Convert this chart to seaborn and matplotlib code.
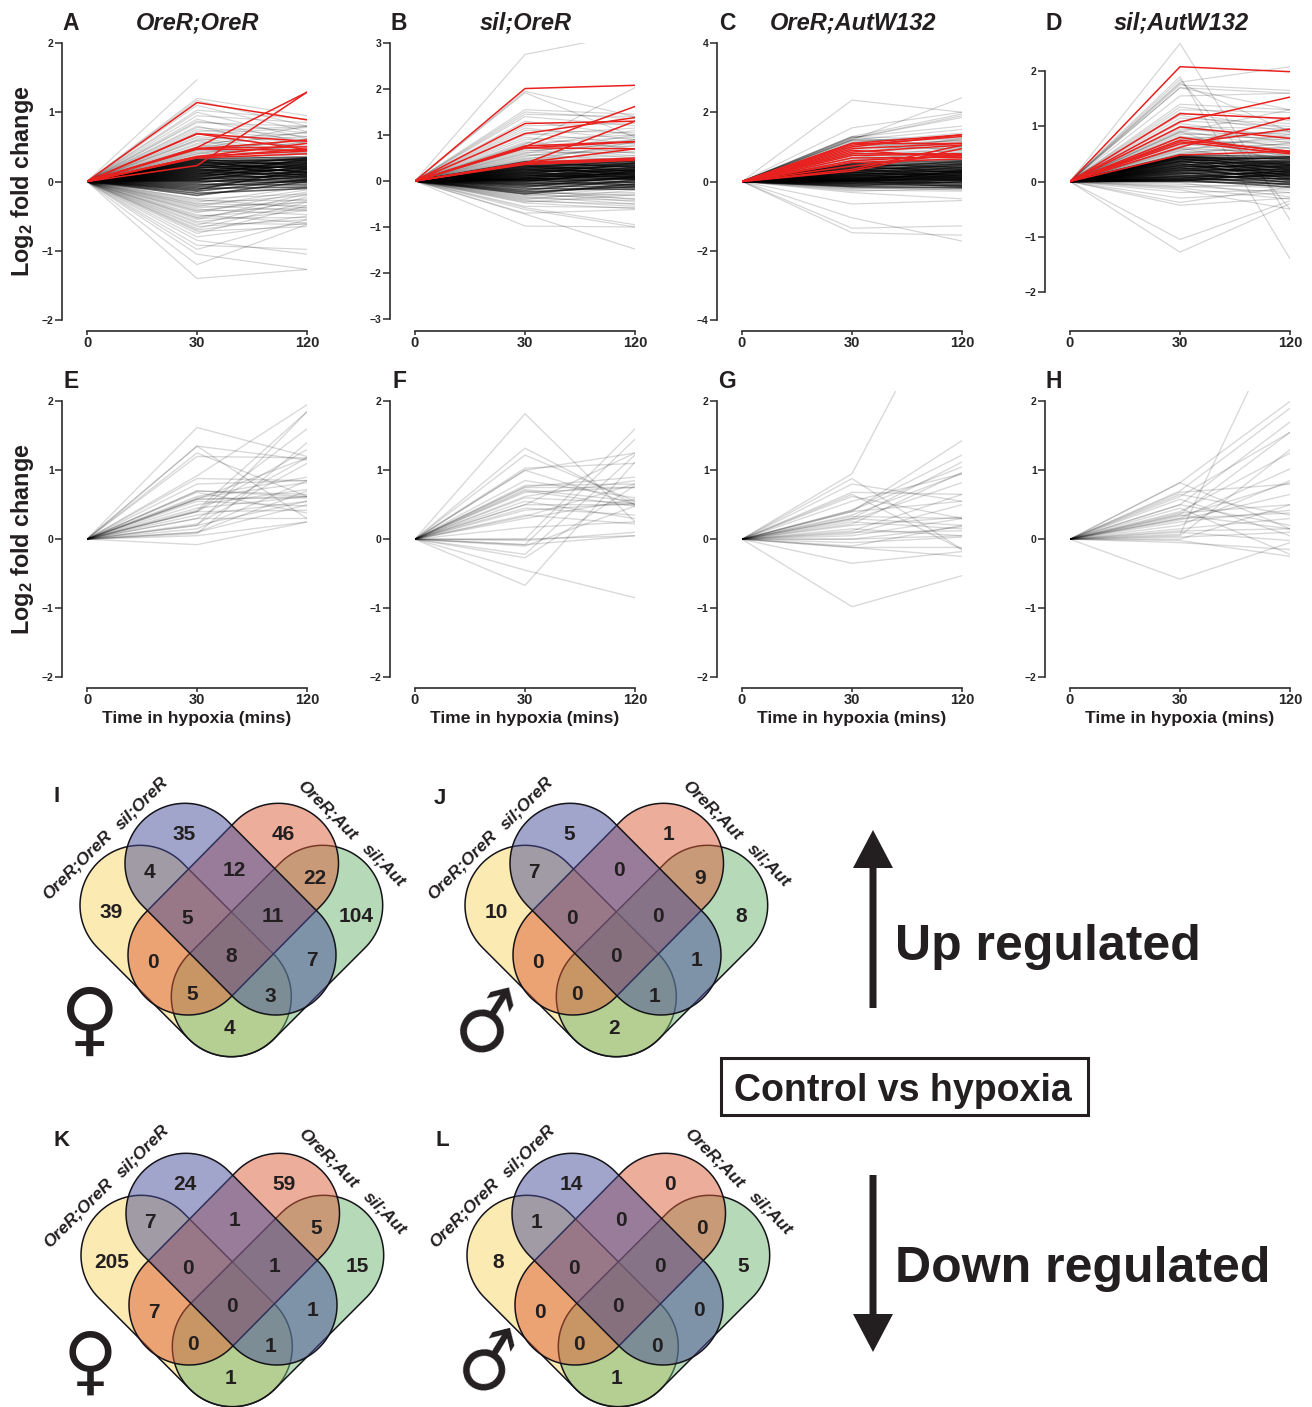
"""
Hypoxia response panels (A-H) and overlap Venns (I-L)
"""
import numpy as np
import pandas as pd
import matplotlib
matplotlib.use("Agg")
import matplotlib.pyplot as plt
from matplotlib.colors import to_rgba
from matplotlib.patches import Polygon, Rectangle, FancyArrow
import seaborn as sns

nan = float("nan")

# ── Data: (log2FC at 30 min, log2FC at 120 min) per gene ─────────────────────

TIME_LABELS = ["0", "30", "120"]

A_FAINT = [(1.47, nan), (1.2, .95), (1.17, .8), (1.1, .72), (1.03, .9), (1.0, .62), (.95, .85), (.9, .55), (.87, .7),
           (.85, .8), (.8, .45), (.78, .65), (.75, .6), (.72, .8), (.7, .55), (.68, .78), (.65, .5), (.63, .42),
           (.6, .7), (.58, .38), (.55, .65), (.53, .45), (.5, .55), (.48, .72), (.47, .35), (.45, .6), (.43, .48),
           (.42, .3), (.4, .52), (.38, .42), (.36, .35), (.35, .58), (.6, .4), (.5, .8), (.45, .4), (.4, .62),
           (-1.4, -1.27), (-1.2, -.62), (-1.05, -1.27), (-.98, -.55), (-.92, -.98), (-.85, -1.05), (-.8, -.6),
           (-.75, -.35), (-.72, -.65), (-.7, -.5), (-.68, -.3), (-.65, -.55), (-.63, -.22), (-.6, -.62), (-.58, -.42),
           (-.55, -.18), (-.53, -.52), (-.52, -.28), (-.5, -.4), (-.48, -.6), (-.45, -.15), (-.43, -.38), (-.42, -.25),
           (-.4, -.48), (-.38, -.3), (-.36, -.12), (-.35, -.42), (-.33, -.2), (-.32, -.35), (-.3, -.08), (-.28, -.27),
           (-.26, -.38), (-.25, -.18)]
A_CORE = [(.33, .35), (.32, .22), (.31, .3), (.3, .12), (.29, .33), (.28, .26), (.27, .18), (.26, .32), (.25, .08),
          (.24, .28), (.23, .2), (.22, .34), (.21, .14), (.2, .25), (.19, .3), (.18, .05), (.17, .22), (.16, .16),
          (.15, .28), (.14, .1), (.13, .24), (.12, .02), (.11, .18), (.1, .32), (.09, .13), (.08, .2), (.07, .07),
          (.06, .26), (.05, .0), (.04, .15), (.03, .1), (.02, .22), (.01, -.02), (0, .05), (-.02, .12), (-.04, -.05),
          (-.06, .08), (-.08, .02), (-.1, -.08), (-.12, .18), (-.14, .03), (-.17, -.1), (-.2, .0)]
A_RED = [(1.14, .89), (.69, .58), (.69, .46), (.49, 1.29), (.23, 1.29), (.47, .6), (.36, .55), (.35, .47),
         (.34, .4), (.47, .45), (.48, .5), (.36, .44)]

B_FAINT = [(2.75, 3.22), (1.95, 1.4), (1.92, .95), (.8, 2.03), (1.55, 1.45), (1.5, 1.35), (1.45, 1.4), (1.4, 1.2),
           (1.3, 1.0), (1.2, 1.25), (1.15, .9), (1.1, 1.05), (1.05, .8), (1.0, 1.15), (.95, .7), (.9, 1.0), (.85, .6),
           (.82, .95), (.78, .75), (.75, 1.1), (.72, .55), (.7, .9), (.68, .5), (.65, .82), (.62, .62), (.6, 1.0),
           (.58, .45), (.55, .7), (.53, .9), (.5, .55), (.48, .78), (.46, .5), (.44, .65), (.42, .85), (.41, .48),
           (-.98, -1.0), (-.72, -1.48), (-.7, -.62), (-.62, -1.0), (-.58, -.95), (-.55, -.58), (-.48, -.6), (-.46, -.3),
           (-.44, -.5), (-.42, -.55), (-.4, -.2), (-.38, -.42), (-.36, -.28), (-.34, -.5), (-.32, -.15), (-.3, -.38),
           (-.28, -.25), (-.26, -.45), (-.24, -.32), (-.22, -.18), (-.2, -.4)]
B_CORE = [(.42, .45), (.4, .3), (.38, .42), (.36, .2), (.35, .38), (.33, .12), (.32, .35), (.3, .25), (.29, .44),
          (.27, .16), (.26, .32), (.25, .08), (.23, .4), (.22, .22), (.2, .34), (.19, .05), (.18, .28), (.16, .14),
          (.15, .38), (.14, .02), (.12, .24), (.11, .1), (.1, .3), (.08, .18), (.07, -.03), (.06, .26), (.05, .06),
          (.04, .2), (.03, .12), (.02, -.08), (.01, .16), (0, .04), (-.02, .22), (-.04, -.1), (-.06, .08), (-.08, -.02),
          (-.1, -.14), (-.13, .1), (-.16, -.18), (-.2, .02), (-.24, -.12), (-.28, -.06)]
B_RED = [(2.01, 2.08), (1.25, 1.3), (1.03, 1.38), (.76, .86), (.75, 1.62), (.38, 1.3), (.72, .7), (.4, .7),
         (.4, .5), (.38, .48), (.36, .45), (.72, .85)]

C_FAINT = [(2.35, 2.0), (1.55, 2.0), (1.2, 2.42), (1.3, 1.95), (1.25, 1.85), (1.28, 1.6), (1.2, 1.5), (1.15, 1.3),
           (1.3, 1.2), (1.28, 1.0), (1.25, 1.9), (1.22, 1.15), (1.2, 1.0), (1.18, 1.25), (1.12, 1.4), (1.1, .9),
           (1.05, 1.1), (1.0, .95), (.95, 1.2), (.9, .85), (.85, 1.0), (.82, .75), (.78, 1.15), (.75, .9), (.7, .8),
           (.68, 1.0), (.65, .7), (.62, .85), (.6, .65), (.58, .95), (.55, .62), (.52, .75), (.5, .68), (.8, 1.25),
           (.9, 1.1), (1.0, 1.2),
           (-.65, -.55), (-1.05, -1.72), (-1.35, -1.28), (-1.48, -1.55), (-.32, -.5), (-.28, -.2), (-.25, -.28),
           (-.22, -.15), (-.2, -.22), (-.18, -.1), (-.16, -.25), (-.14, -.18), (-.12, -.05)]
C_CORE = [(.52, .6), (.5, .4), (.47, .55), (.45, .25), (.43, .5), (.4, .35), (.38, .58), (.36, .15), (.34, .45),
          (.32, .28), (.3, .52), (.28, .1), (.26, .38), (.25, .48), (.23, .2), (.21, .32), (.2, .05), (.18, .42),
          (.17, .24), (.15, .34), (.14, .12), (.12, .02), (.11, .3), (.1, .18), (.08, -.05), (.07, .26), (.06, .08),
          (.05, .22), (.04, -.1), (.03, .14), (.02, .04), (.01, .3), (0, -.15), (-.01, .1), (-.03, .18), (-.05, -.02),
          (-.07, .06), (-.09, -.12), (-.12, .0), (-.15, -.18)]
C_RED = [(1.1, 1.35), (1.05, 1.3), (1.1, 1.1), (1.0, 1.35), (.95, 1.1), (.85, 1.05), (.8, .8), (.75, .8), (.68, .7),
         (.6, .75), (.55, .65), (.45, .8), (.35, 1.05), (.3, .95), (.9, .7)]

D_FAINT = [(2.5, -.7), (1.9, -1.4), (1.85, -.5), (1.8, 2.08), (1.75, 1.65), (1.7, 1.6), (1.7, 1.3), (1.78, .9), (1.55, 1.6),
           (1.4, 1.3), (1.35, 1.1), (1.3, 1.25), (1.25, .95), (1.2, .9), (1.15, 1.05), (1.1, 1.0), (1.05, .8), (1.0, .95),
           (.98, .7), (.95, .85), (.92, .6), (.9, 1.3), (.88, .75), (.85, .88), (.82, .55), (.8, .8), (.78, .65), (.75, .92),
           (.72, .5), (.7, .72), (.68, .6), (.65, .78), (.62, .48), (.6, .68), (.58, .55), (.56, .85), (.55, .45),
           (.52, .62), (.5, .5), (.5, .7), (.7, .4), (.8, .45), (.9, .3), (.6, .3),
           (-1.05, -.35), (-1.28, -.4), (-.43, -.3), (-.38, -.1), (-.3, -.2), (-.2, -.15), (-.15, -.5), (-.12, -.32),
           (-.1, -.05), (-.08, -.2), (-.05, -.12), (-.02, -.28)]
D_CORE = [(.48, .45), (.47, .3), (.46, .4), (.45, .22), (.44, .36), (.43, .42), (.42, .15), (.41, .28), (.4, .34),
          (.38, .1), (.37, .44), (.36, .25), (.35, .32), (.33, .05), (.32, .2), (.3, .38), (.29, .12), (.28, .26),
          (.26, .3), (.25, .02), (.24, .18), (.22, .35), (.21, .08), (.2, .22), (.18, .28), (.17, -.02), (.15, .14),
          (.14, .24), (.12, .04), (.1, .18), (.09, -.06), (.08, .1), (.06, .2), (.05, .0), (.04, .12), (.03, -.1),
          (.02, .06), (.01, .16), (0, -.04)]
D_RED = [(2.08, 1.99), (1.23, 1.14), (1.08, 1.53), (.99, .78), (.8, .52), (.75, .55), (.72, .5), (.62, 1.16),
         (.68, .95), (.48, .55)]

E_LINES = [(1.62, 1.2), (1.35, .3), (1.35, 1.15), (1.25, .62), (1.2, 1.18), (.88, .85), (.8, .85), (.92, 1.95), (.7, .65),
           (.7, .62), (.58, 1.18), (.58, .6), (.58, .62), (.55, .48), (.42, 1.85), (.4, 1.6), (.4, .42), (.4, 1.3),
           (.3, 1.18), (.22, 1.1), (.2, 1.85), (.2, .55), (.15, .85), (.1, .7), (.08, 1.4), (.05, .25), (-.08, .25),
           (.62, .9), (.5, .72), (.35, .55), (.3, .3), (.68, .38), (.6, .82), (.45, .62), (.1, .5)]
F_LINES = [(1.82, .25), (1.32, .5), (1.22, .55), (1.03, 1.1), (1.0, 1.25), (1.0, .5), (.85, .6), (.78, .8), (.76, .9),
           (.75, .75), (.72, .55), (.7, .48), (.62, .85), (.6, .52), (.5, .5), (.5, 1.25), (.45, .35), (.35, .22),
           (.33, .8), (.3, .58), (.17, .25), (0, 1.6), (0, .05), (-.02, .1), (-.08, 1.45), (-.08, .05), (-.1, .48),
           (-.22, 1.22), (-.27, .78), (-.45, -.85), (-.67, 1.12), (.68, .75), (.55, .3), (.42, .52)]
G_LINES = [(.95, 3.97), (.88, -.15), (.8, .55), (.65, -.15), (.68, .65), (.62, .3), (.55, .95), (.42, 1.22), (.42, 1.05),
           (.4, .55), (.4, 1.43), (.35, .95), (.33, .3), (.3, 1.12), (.3, .2), (.28, .82), (.25, .15), (.2, .32),
           (.15, .05), (.12, .65), (.08, .5), (0, .05), (0, .18), (-.05, .03), (-.1, .2), (-.12, -.12), (-.12, -.25),
           (-.35, -.18), (-.98, -.53), (.22, .97), (.1, .12), (.05, .3)]
H_LINES = [(.82, 2.0), (.82, .15), (.7, 1.9), (.68, .8), (.65, .35), (.62, 1.55), (.58, .05), (.5, 1.7), (.5, .2),
           (.4, 1.25), (.38, .5), (.36, 1.55), (.35, .15), (.33, .82), (.3, 1.02), (.3, .38), (.28, .65), (.25, .42),
           (.2, .85), (.15, .3), (.1, -.02), (.07, 3.42), (.05, 1.3), (0, .5), (-.02, -.25), (-.05, -.15), (-.58, -.05),
           (.12, .15), (.03, .1), (.45, -.22)]

# Venn counts, order: yellow, blue, red, green, y+b, b+r, r+g, y+b+r, b+r+g, y+r, all, b+g, y+r+g, y+b+g, y+g
VENN_I = [39, 35, 46, 104, 4, 12, 22, 5, 11, 0, 8, 7, 5, 3, 4]
VENN_J = [10, 5, 1, 8, 7, 0, 9, 0, 0, 0, 0, 1, 0, 1, 2]
VENN_K = [205, 24, 59, 15, 7, 1, 5, 0, 1, 7, 0, 1, 0, 1, 1]
VENN_L = [8, 14, 0, 5, 1, 0, 0, 0, 0, 0, 0, 0, 0, 0, 1]
VENN_SETS = ["OreR;OreR", "sil;OreR", "OreR;Aut", "sil;Aut"]

# ── Layout ────────────────────────────────────────────────────────────────────

W, H = 1312, 1407
DARK = "#231F20"
RED = "#E8211F"

sns.set_style("white")
plt.rcParams["font.family"] = ["Liberation Sans", "DejaVu Sans"]
plt.rcParams["font.weight"] = "bold"
plt.rcParams["mathtext.fontset"] = "custom"
plt.rcParams["mathtext.rm"] = "Liberation Sans"
plt.rcParams["mathtext.default"] = "rm"

fig = plt.figure(figsize=(W / 100, H / 100), dpi=100)
over = fig.add_axes([0, 0, 1, 1], zorder=5)
over.set_xlim(0, W)
over.set_ylim(H, 0)
over.axis("off")


def to_table(pairs):
    rows = []
    for gene, (y30, y120) in enumerate(pairs):
        rows += [(gene, 0, 0.0), (gene, 1, y30), (gene, 2, y120)]
    return pd.DataFrame(rows, columns=["gene", "pos", "lfc"]).dropna()


def draw_panel(x0, top_px, bottom_px, ylim, ticks, axis_px, groups):
    ax = fig.add_axes([x0 / W, 1 - bottom_px / H, 220 / W, (bottom_px - top_px) / H])
    for pairs, color, alpha, lw in groups:
        sns.lineplot(data=to_table(pairs), x="pos", y="lfc", units="gene", estimator=None,
                     color=color, alpha=alpha, linewidth=lw, ax=ax, legend=False)
    ax.set_xlim(0, 2)
    ax.set_ylim(*ylim)
    ax.patch.set_alpha(0)
    ax.set_xticks([0, 1, 2], TIME_LABELS)
    ax.set_yticks(ticks)
    ax.set_xlabel("")
    ax.set_ylabel("")
    sns.despine(ax=ax)
    ax.spines["left"].set_position(("outward", 25 * 0.72))
    ax.spines["bottom"].set_position(("outward", (axis_px - bottom_px) * 0.72))
    ax.spines["left"].set_bounds(ticks[0], ticks[-1])
    ax.spines["bottom"].set_bounds(0, 2)
    for s in ["left", "bottom"]:
        ax.spines[s].set_linewidth(1.2)
        ax.spines[s].set_color("#2b2b2b")
    ax.tick_params(axis="y", direction="out", left=True, length=5, width=1.1, labelsize=7.5, pad=1, color="#2b2b2b")
    ax.tick_params(axis="x", direction="out", bottom=True, length=3, width=1.1, labelsize=10.5, pad=0.5, color="#2b2b2b")
    for t in ax.get_xticklabels() + ax.get_yticklabels():
        t.set_fontweight("bold")
    return ax


def top_groups(faint, core, red):
    return [(faint, "black", 0.17, 0.85), (core, "black", 0.6, 1.2), (red, RED, 1.0, 1.1)]


X0 = [87, 415, 742, 1070]
draw_panel(X0[0], 43, 320, (-2, 2), [-2, -1, 0, 1, 2], 331, top_groups(A_FAINT, A_CORE, A_RED))
draw_panel(X0[1], 43, 319, (-3, 3), [-3, -2, -1, 0, 1, 2, 3], 331, top_groups(B_FAINT, B_CORE, B_RED))
draw_panel(X0[2], 43, 320, (-4, 4), [-4, -2, 0, 2, 4], 331, top_groups(C_FAINT, C_CORE, C_RED))
draw_panel(X0[3], 43, 320, (-2.51, 2.51), [-2, -1, 0, 1, 2], 331, top_groups(D_FAINT, D_CORE, D_RED))
for x0, lines in zip(X0, [E_LINES, F_LINES, G_LINES, H_LINES]):
    draw_panel(x0, 391, 677, (-2, 2.15), [-2, -1, 0, 1, 2], 688, [(lines, "black", 0.15, 1.0)])

# Titles, letters, axis labels
TITLES = ["OreR;OreR", "sil;OreR", "OreR;AutW132", "sil;AutW132"]
for x0, title in zip(X0, TITLES):
    over.text(x0 + 111, 23, title, style="italic", fontsize=17, ha="center", va="center", color=DARK)
for x, letter in zip([71, 399, 727, 1054], "ABCD"):
    over.text(x, 23, letter, fontsize=16.5, ha="center", va="center", color=DARK)
for x, letter in zip([71, 399, 727, 1054], "EFGH"):
    over.text(x, 381, letter, fontsize=16.5, ha="center", va="center", color=DARK)
for yc in [181, 539]:
    over.text(23, yc, "Log$_{2}$ fold change", rotation=90, fontsize=16.8, ha="center", va="center", color=DARK)
for x0 in X0:
    over.text(x0 + 110, 718, "Time in hypoxia (mins)", fontsize=12.6, ha="center", va="center", color=DARK)

# ── Venns ─────────────────────────────────────────────────────────────────────

# stadium end caps in pixels for panel I, drawn yellow, green, red, blue so overlaps mix like the figure
VENN_R = 60
STADIUMS = [
    ((140, 905.3), (231.3, 996.7), "#FBD769"),
    ((322.7, 905.3), (231.3, 996.7), "#6FB573"),
    ((278.5, 863.3), (188, 955), "#DB5D37"),
    ((185, 863.3), (276, 955), "#474D99"),
]
COUNT_XY = [(111, 913), (184, 834), (283, 835), (356, 916), (149, 872), (234, 871), (315, 879), (187, 918),
            (273, 916), (153, 962), (231, 956), (312, 961), (192, 995), (270, 996), (229, 1029)]
SET_XY = [(77, 865, 45), (142, 803, 45), (327, 810, -45), (384, 865, -45)]


def stadium_xy(p0, p1, r, dx, dy):
    ang = np.arctan2(p1[1] - p0[1], p1[0] - p0[0])
    t0 = np.linspace(ang + np.pi / 2, ang + 3 * np.pi / 2, 60)
    t1 = np.linspace(ang - np.pi / 2, ang + np.pi / 2, 60)
    xs = np.r_[p0[0] + r * np.cos(t0), p1[0] + r * np.cos(t1)] + dx
    ys = np.r_[p0[1] + r * np.sin(t0), p1[1] + r * np.sin(t1)] + dy
    return np.c_[xs, ys]


def draw_venn(counts, dx, dy, letter, letter_xy, symbol, sym_xy, sym_size, sym_rot, label_dy):
    # the outline goes with the fill, so later fills soften the earlier outlines
    for p0, p1, col in STADIUMS:
        over.add_patch(Polygon(stadium_xy(p0, p1, VENN_R, dx, dy), closed=True,
                               fc=to_rgba(col, 0.5), ec="#15131a", lw=1.1))
    for (x, y), n in zip(COUNT_XY, counts):
        over.text(x + dx, y + dy, str(n), fontsize=15, ha="center", va="center", color=DARK)
    for (x, y, rot), name in zip(SET_XY, VENN_SETS):
        over.text(x + dx, y + dy + label_dy, name, style="italic", fontsize=12.5, rotation=rot, rotation_mode="anchor",
                  ha="center", va="center", color=DARK)
    over.text(letter_xy[0], letter_xy[1], letter, fontsize=16, ha="center", va="center", color=DARK)
    over.text(sym_xy[0], sym_xy[1], symbol, family="DejaVu Sans", fontsize=sym_size, rotation=sym_rot,
              ha="center", va="center", color=DARK)


draw_venn(VENN_I, 0, 0, "I", (57, 797), "\u2640", (89, 1024), 58.5, 0, 0)
draw_venn(VENN_J, 385, 0, "J", (440, 798), "\u2642", (488, 1026), 56, 14, 0)
draw_venn(VENN_K, 1, 350, "K", (62, 1140), "\u2640", (90, 1365), 54, 0, -2)
draw_venn(VENN_L, 387, 350, "L", (442, 1140), "\u2642", (490, 1366), 54, 14, -2)

# ── Arrows and side labels ────────────────────────────────────────────────────

over.add_patch(FancyArrow(873, 1008, 0, -178, width=7, head_width=40, head_length=38,
                          length_includes_head=True, color=DARK, lw=0))
over.add_patch(FancyArrow(873, 1175, 0, 177, width=7, head_width=40, head_length=38,
                          length_includes_head=True, color=DARK, lw=0))
over.text(895, 947, "Up regulated", fontsize=36, ha="left", va="center", color=DARK)
over.text(895, 1269, "Down regulated", fontsize=36, ha="left", va="center", color=DARK)
over.add_patch(Rectangle((721, 1058), 367, 57, fc="none", ec=DARK, lw=2.2))
over.text(903, 1091, "Control vs hypoxia", fontsize=27, ha="center", va="center", color=DARK)

fig.savefig("out.png", dpi=100)
